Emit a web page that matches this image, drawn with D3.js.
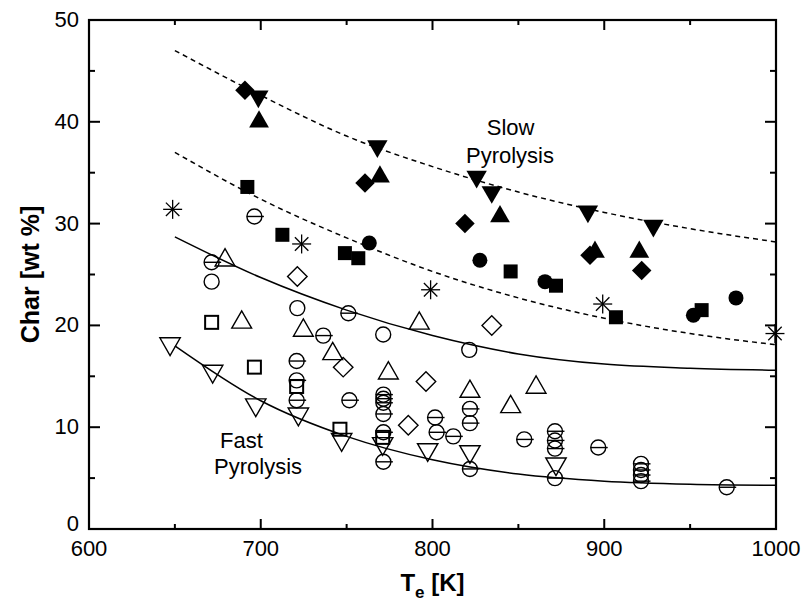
<!DOCTYPE html>
<html>
<head>
<meta charset="utf-8">
<script src="https://cdn.jsdelivr.net/npm/d3@7"></script>
<style>
  body { margin: 0; background: #fff; }
  svg { font-family: "Liberation Sans", Arial, sans-serif; }
</style>
</head>
<body>
<div id="plot"></div>
<script>
// slow pyrolysis series (filled)
var fDiamond = [[690.8,43.1],[760.7,34.0],[818.9,30.0],[891.7,26.9],[921.8,25.4]]
var fTriUp = [[699,40.0],[769.4,34.6],[839.3,30.7],[894.6,27.2],[920.4,27.2]]
var fTriDown = [[698.6,42.5],[767.9,37.6],[825.7,34.6],[834.5,33.1],[890.5,31.2],[928.6,29.8]]
var fSquare = [[692.2,33.6],[712.6,28.9],[749,27.1],[756.8,26.6],[845.5,25.3],[871.9,23.9],[906.8,20.8],[956.7,21.5]]
var fCircle = [[763.2,28.1],[827.6,26.4],[865.5,24.3],[951.9,21.0],[976.7,22.7]]
var aster = [[648.7,31.4],[723.8,28.0],[798.9,23.5],[899.1,22.1],[999.4,19.2]]

// fast pyrolysis series (open)
var oDiamond = [[721.3,24.8],[834.5,20.0],[748,15.9],[796.2,14.5],[785.9,10.2]]
var oTriUp = [[679.2,26.4],[688.9,20.3],[724.8,19.5],[741.9,17.2],[792.3,20.2],[774.3,15.3],[821.8,13.5],[845.5,12.0],[860.3,13.9]]
var oTriDown = [[647.2,18.2],[672,15.5],[697.1,12.2],[721.9,11.3],[747.1,8.8],[771,8.4],[797.2,7.8],[821.8,7.6],[871.9,6.4]]
var oSquare = [[671.4,20.3],[696.3,15.9],[720.9,14.0],[746.1,9.8],[771,9.0]]
var oCircle = [[671.4,24.3],[721.3,21.7],[771.3,19.1],[821.4,17.6]]
var barCircle = [[696.3,30.7],[671.4,26.2],[736.4,19.0],[720.9,16.5],[751,21.2],[720.9,14.6],[720.9,12.65],
  [751.6,12.65],[771.4,13.2],[771.4,12.8],[771.4,12.4],[771.4,11.3],[771.4,9.5],[771.4,6.6],
  [801.5,10.95],[802.4,9.5],[812.1,9.1],[821.8,11.8],[821.8,10.4],[821.8,5.9],[853.4,8.8],
  [871.3,9.6],[871.3,8.7],[871.3,7.9],[871.3,5.0],[896.5,8.0],[921.4,6.4],[921.4,5.8],[921.4,5.3],[921.4,4.7],[971.3,4.1]]

// fitted trend curves
var slowUpper = [[650,47.0],[700,42.6],[750,38.6],[800,35.6],[850,33.1],[900,31.1],[950,29.5],[1000,28.2]]
var slowLower = [[650,37.0],[700,32.4],[750,28.6],[800,25.3],[850,22.7],[900,20.7],[950,19.2],[1000,18.1]]
var fastUpper = [[650,28.7],[700,24.7],[750,21.5],[800,19.0],[850,17.2],[900,16.2],[950,15.8],[1000,15.6]]
var fastLower = [[650,18.0],[700,12.6],[750,9.1],[800,6.8],[850,5.4],[900,4.7],[950,4.4],[1000,4.3]]

var xTicks = [600,700,800,900,1000]
var yTicks = [0,10,20,30,40,50]

var W = 803, H = 603
var margin = {top: 20, right: 27, bottom: 74, left: 89}

var svg = d3.select("#plot").append("svg")
	.attr("width", W).attr("height", H)

var x = d3.scaleLinear().domain([600,1000]).range([margin.left, W - margin.right])
var y = d3.scaleLinear().domain([0,50]).range([H - margin.bottom, margin.top])

// curves
var line = d3.line().x(d => x(d[0])).y(d => y(d[1])).curve(d3.curveMonotoneX)
;[slowUpper, slowLower].forEach(c =>
	svg.append("path").attr("d", line(c)).attr("fill","none").attr("stroke","#000")
		.attr("stroke-width",1.5).attr("stroke-dasharray","5,4"))
;[fastUpper, fastLower].forEach(c =>
	svg.append("path").attr("d", line(c)).attr("fill","none").attr("stroke","#000")
		.attr("stroke-width",1.5))

var g = svg.append("g")

function pts(data, fn){
	data.forEach(d => fn(g.append("g").attr("transform","translate(" + x(d[0]) + "," + y(d[1]) + ")")))
}
var sym = (type, size) => d3.symbol().type(type).size(size)()
var triDown = {draw: function(ctx, size){ var s = Math.sqrt(size*4/Math.sqrt(3));
	ctx.moveTo(-s/2, -s*0.29); ctx.lineTo(s/2, -s*0.29); ctx.lineTo(0, s*0.58); ctx.closePath() }}
var triUp = {draw: function(ctx, size){ var s = Math.sqrt(size*4/Math.sqrt(3));
	ctx.moveTo(-s/2, s*0.29); ctx.lineTo(s/2, s*0.29); ctx.lineTo(0, -s*0.58); ctx.closePath() }}
var diamond = {draw: function(ctx, size){ var r = Math.sqrt(size/2);
	ctx.moveTo(0,-r); ctx.lineTo(r,0); ctx.lineTo(0,r); ctx.lineTo(-r,0); ctx.closePath() }}

pts(fDiamond, s => s.append("path").attr("d", sym(diamond, 190)).attr("fill","#000"))
pts(fTriUp, s => s.append("path").attr("d", sym(triUp, 170)).attr("fill","#000"))
pts(fTriDown, s => s.append("path").attr("d", sym(triDown, 180)).attr("fill","#000"))
pts(fSquare, s => s.append("rect").attr("x",-7).attr("y",-7).attr("width",14).attr("height",14).attr("fill","#000"))
pts(fCircle, s => s.append("circle").attr("r",7.5).attr("fill","#000"))
pts(aster, s => {
	[0,45,90,135].forEach(a => s.append("line").attr("x1",-9.5).attr("x2",9.5)
		.attr("transform","rotate(" + a + ")").attr("stroke","#000").attr("stroke-width",1.3))
})

var openStyle = s => s.attr("fill","none").attr("stroke","#000").attr("stroke-width",1.4)
pts(oDiamond, s => openStyle(s.append("path").attr("d", sym(diamond, 190))))
pts(oTriUp, s => openStyle(s.append("path").attr("d", sym(triUp, 170))))
pts(oTriDown, s => openStyle(s.append("path").attr("d", sym(triDown, 180))))
pts(oSquare, s => openStyle(s.append("rect").attr("x",-6.5).attr("y",-6.5).attr("width",13).attr("height",13)).attr("stroke-width",2))
pts(oCircle, s => openStyle(s.append("circle").attr("r",7.5)))
pts(barCircle, s => {
	openStyle(s.append("circle").attr("r",7.5))
	s.append("line").attr("x1",-7.5).attr("x2",9.5).attr("stroke","#000").attr("stroke-width",1.4)
})

// frame and ticks
var x0 = x(600), x1 = x(1000), y0 = y(0), y1 = y(50)
var minorX = d3.range(650, 1000, 100), minorY = d3.range(5, 50, 10)
var tk = svg.append("g").attr("stroke","#000").attr("stroke-width",2)
xTicks.concat(minorX).forEach(t => {
	var L = xTicks.includes(t) ? 10 : 5
	tk.append("line").attr("x1",x(t)).attr("x2",x(t)).attr("y1",y0).attr("y2",y0-L)
	tk.append("line").attr("x1",x(t)).attr("x2",x(t)).attr("y1",y1).attr("y2",y1+L)
})
yTicks.concat(minorY).forEach(t => {
	var L = yTicks.includes(t) ? 11 : 6
	tk.append("line").attr("x1",x0).attr("x2",x0+L).attr("y1",y(t)).attr("y2",y(t))
	tk.append("line").attr("x1",x1).attr("x2",x1-L).attr("y1",y(t)).attr("y2",y(t))
})
svg.append("rect").attr("x",x0).attr("y",y1).attr("width",x1-x0).attr("height",y0-y1)
	.attr("fill","none").attr("stroke","#000").attr("stroke-width",2.2)

// tick labels
svg.append("g").selectAll("text").data(xTicks).enter().append("text")
	.attr("x", d => x(d)).attr("y", y0 + 27).attr("text-anchor","middle")
	.style("font-size","22px").text(d => d)
svg.append("g").selectAll("text").data(yTicks).enter().append("text")
	.attr("x", x0 - 10).attr("y", d => d == 0 ? y(d) + 2 : y(d) + 7).attr("text-anchor","end")
	.style("font-size","22px").text(d => d)

// axis titles
var xt = svg.append("text").attr("x", x(800)).attr("y", 591).attr("text-anchor","middle")
	.style("font-size","24px").style("font-weight","bold")
xt.append("tspan").text("T")
xt.append("tspan").attr("dy",7).style("font-size","17px").text("e")
xt.append("tspan").attr("dy",-7).text(" [K]")
svg.append("text").attr("transform","translate(39," + (y(25)) + ") rotate(-90)")
	.attr("text-anchor","middle").style("font-size","25px").style("font-weight","bold")
	.text("Char [wt %]")

// annotations
var ann = [["Slow",831.6,38.7],["Pyrolysis",819.5,36.0],["Fast",676.3,8.0],["Pyrolysis",672.8,5.4]]
svg.append("g").selectAll("text").data(ann).enter().append("text")
	.attr("x", d => x(d[1])).attr("y", d => y(d[2]))
	.style("font-size","22px").text(d => d[0])
</script>
</body>
</html>
